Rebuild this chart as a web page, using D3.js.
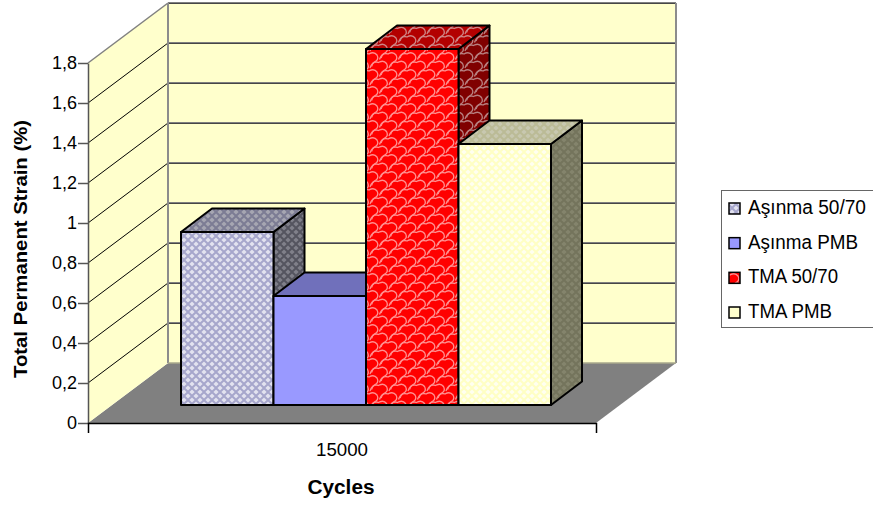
<!DOCTYPE html>
<html>
<head>
<meta charset="utf-8">
<script src="https://cdn.jsdelivr.net/npm/d3@7"></script>
<style>
  html, body { margin: 0; padding: 0; background: #fff; overflow: hidden; }
  text { font-family: "Liberation Sans", Arial, sans-serif; fill: #000; }
</style>
</head>
<body>
<svg id="chart" width="873" height="506"></svg>
<script>
// Chart content
const categories = ["15000"];
const seriesNames = ["Aşınma 50/70", "Aşınma PMB", "TMA 50/70", "TMA PMB"];
const seriesValues = [0.865, 0.545, 1.78, 1.305];
const tickValues = [0, 0.2, 0.4, 0.6, 0.8, 1, 1.2, 1.4, 1.6, 1.8];
const tickLabels = ["0", "0,2", "0,4", "0,6", "0,8", "1", "1,2", "1,4", "1,6", "1,8"];
const axisTitles = ["Total Permanent Strain (%)", "Cycles"];

const svg = d3.select("#chart");
const defs = svg.append("defs");

// Oblique projection of the box: wall depth and bar depth
const wallDx = 80, wallDy = -60;
const barDx = 31, barDy = -23.5;
const barBase = 405;

const y = d3.scaleLinear().domain([0, 1.8]).range([423, 63]);
const xCat = d3.scaleBand().domain(categories).range([88, 596]);
const xBar = d3.scaleBand().domain(seriesNames).range([181, 551]);
const barHeight = d3.scaleLinear().domain([0, 1]).range([0, 200]);

// Fill patterns; each face gets a base colour and a lattice colour
function lattice(id, base, dot) {
  const p = defs.append("pattern").attr("id", id).attr("patternUnits", "userSpaceOnUse")
    .attr("width", 8).attr("height", 8);
  p.append("rect").attr("width", 8).attr("height", 8).attr("fill", base);
  [[0, 0], [8, 0], [0, 8], [8, 8], [4, 4]].forEach(([cx, cy]) =>
    p.append("path")
      .attr("d", `M${cx - 2.6},${cy}L${cx},${cy - 2.6}L${cx + 2.6},${cy}L${cx},${cy + 2.6}Z`)
      .attr("fill", dot));
}
// Staggered open heart curves for the red series
function hearts(id, base, line) {
  const p = defs.append("pattern").attr("id", id).attr("patternUnits", "userSpaceOnUse")
    .attr("width", 19).attr("height", 17);
  p.append("rect").attr("width", 19).attr("height", 17).attr("fill", base);
  const heart = (ox, oy) =>
    `M${ox + 1},${oy + 7}q2,-6 7,-4q5,-3 8,1q2,4 -1,6l-3,2q-2,2 -3,5`;
  [[0, 0], [9.5, 8.5], [-9.5, 8.5], [9.5, -8.5], [-9.5, -8.5], [19, 0], [-19, 0], [0, 17], [0, -17]].forEach(([ox, oy]) =>
    p.append("path").attr("d", heart(ox, oy)).attr("fill", "none")
      .attr("stroke", line).attr("stroke-width", 1.3));
}
lattice("p0front", "#a6a6cc", "#e2e2f0");
lattice("p0top", "#7c7c94", "#a6a6b2");
lattice("p0side", "#54545f", "#80808a");
lattice("p3front", "#ffffc4", "#fffff0");
lattice("p3top", "#bbbb96", "#c8c8b0");
lattice("p3side", "#74745c", "#84846c");
hearts("p2front", "#ff0000", "#ff9090");
hearts("p2top", "#b30000", "#cf8585");
hearts("p2side", "#800000", "#b88080");

const barFaces = [
  { front: "url(#p0front)", top: "url(#p0top)", side: "url(#p0side)" },
  { front: "#9999ff", top: "#7070bb", side: "#55558c" },
  { front: "url(#p2front)", top: "url(#p2top)", side: "url(#p2side)" },
  { front: "url(#p3front)", top: "url(#p3top)", side: "url(#p3side)" }
];

// Floor and walls
const [x0, x1] = xCat.range();
const y0 = y(0), yTop = y(1.8);
svg.append("polygon").attr("fill", "#808080")
  .attr("points", [[x0, y0], [x1, y0], [x1 + wallDx, y0 + wallDy], [x0 + wallDx, y0 + wallDy]].join(" "));
svg.append("polygon").attr("fill", "#ffffcc")
  .attr("points", [[x0, y0], [x0 + wallDx, y0 + wallDy], [x0 + wallDx, yTop + wallDy], [x0, yTop]].join(" "));
svg.append("rect").attr("fill", "#ffffcc")
  .attr("x", x0 + wallDx).attr("y", yTop + wallDy)
  .attr("width", x1 - x0).attr("height", y0 - yTop);

// Gridlines run up the side wall and across the back wall
tickValues.filter(t => t > 0).forEach(t => {
  const top = t === 1.8;
  svg.append("line")
    .attr("x1", x0).attr("y1", y(t)).attr("x2", x0 + wallDx).attr("y2", y(t) + wallDy)
    .attr("stroke", top ? "#808080" : "#000").attr("stroke-width", top ? 1.5 : 1);
  svg.append("line")
    .attr("x1", x0 + wallDx).attr("y1", y(t) + wallDy).attr("x2", x1 + wallDx).attr("y2", y(t) + wallDy)
    .attr("stroke", "#808080").attr("stroke-width", 1.5).attr("shape-rendering", "crispEdges");
  svg.append("line")
    .attr("x1", x0 + wallDx).attr("y1", y(t) + wallDy).attr("x2", x1 + wallDx).attr("y2", y(t) + wallDy)
    .attr("stroke", "#000").attr("stroke-opacity", 0.45).attr("stroke-width", 1).attr("shape-rendering", "crispEdges");
});
// Wall edges
svg.append("path").attr("fill", "none").attr("stroke", "#8c8c8c").attr("stroke-width", 2)
  .attr("d", `M${x0 + wallDx},${y0 + wallDy}V${yTop + wallDy}`);
svg.append("path").attr("fill", "none").attr("stroke", "#8c8c8c").attr("stroke-width", 2)
  .attr("d", `M${x1 + wallDx},${yTop + wallDy}V${y0 + wallDy}`);
svg.append("path").attr("fill", "none").attr("stroke", "#a8a88c").attr("stroke-width", 1.5)
  .attr("d", `M${x0 + wallDx},${y0 + wallDy}H${x1 + wallDx}`);

// Bars, left to right so nearer faces overlap correctly
seriesNames.forEach((name, i) => {
  const left = xBar(name), w = xBar.bandwidth();
  const right = left + w;
  const top = barBase - barHeight(seriesValues[i]);
  const g = svg.append("g").attr("stroke", "#000").attr("stroke-width", 2).attr("stroke-linejoin", "round");
  g.append("polygon").attr("fill", barFaces[i].side)
    .attr("points", [[right, top], [right + barDx, top + barDy], [right + barDx, barBase + barDy], [right, barBase]].join(" "));
  g.append("polygon").attr("fill", barFaces[i].top)
    .attr("points", [[left, top], [left + barDx, top + barDy], [right + barDx, top + barDy], [right, top]].join(" "));
  g.append("rect").attr("fill", barFaces[i].front)
    .attr("x", left).attr("y", top).attr("width", w).attr("height", barBase - top);
});

// Value axis
const yAxis = d3.axisLeft(y).tickValues(tickValues)
  .tickFormat((d, i) => tickLabels[i]).tickSize(10).tickSizeOuter(0).tickPadding(1);
const gy = svg.append("g").attr("transform", `translate(${x0},0)`).call(yAxis);
gy.select(".domain").attr("stroke", "#555").attr("stroke-width", 1.5);
gy.selectAll(".tick line").attr("stroke", "#555").attr("stroke-width", 1.5);
gy.selectAll("text").attr("font-size", 18).attr("font-family", "Liberation Sans").attr("fill", "#000");

// Category axis
const xAxis = d3.axisBottom(xCat).tickValues([]).tickSizeOuter(10);
const gx = svg.append("g").attr("transform", `translate(0,${y0})`).call(xAxis);
gx.select(".domain").attr("stroke", "#000").attr("stroke-width", 1.5);
svg.append("text").attr("x", xCat(categories[0]) + xCat.bandwidth() / 2).attr("y", 456)
  .attr("text-anchor", "middle").attr("font-size", 18)
  .attr("textLength", 52).attr("lengthAdjust", "spacingAndGlyphs").text(categories[0]);

// Axis titles
svg.append("text").attr("transform", "translate(27,249) rotate(-90)")
  .attr("text-anchor", "middle").attr("font-size", 17.5).attr("font-weight", "bold")
  .attr("textLength", 258).attr("lengthAdjust", "spacingAndGlyphs").text(axisTitles[0]);
svg.append("text").attr("x", 341).attr("y", 494)
  .attr("text-anchor", "middle").attr("font-size", 20).attr("font-weight", "bold")
  .attr("textLength", 67).attr("lengthAdjust", "spacingAndGlyphs").text(axisTitles[1]);

// Legend
svg.append("rect").attr("x", 721.5).attr("y", 190.5).attr("width", 160).attr("height", 137)
  .attr("fill", "#fff").attr("stroke", "#666").attr("stroke-width", 1);
const legendY = d3.scalePoint().domain(seriesNames).range([203, 307]);
const legendWidths = [118, 110, 90, 84];
const legendFills = ["url(#p0front)", "#9999ff", "url(#p2front)", "#ffffcc"];
seriesNames.forEach((name, i) => {
  const ly = legendY(name);
  svg.append("rect").attr("x", 729).attr("y", ly).attr("width", 11).attr("height", 11)
    .attr("fill", legendFills[i]).attr("stroke", "#000").attr("stroke-width", 1.5);
  svg.append("text").attr("x", 748).attr("y", ly + 11).attr("font-size", 19.5)
    .attr("textLength", legendWidths[i]).attr("lengthAdjust", "spacingAndGlyphs").text(name);
});
</script>
</body>
</html>
